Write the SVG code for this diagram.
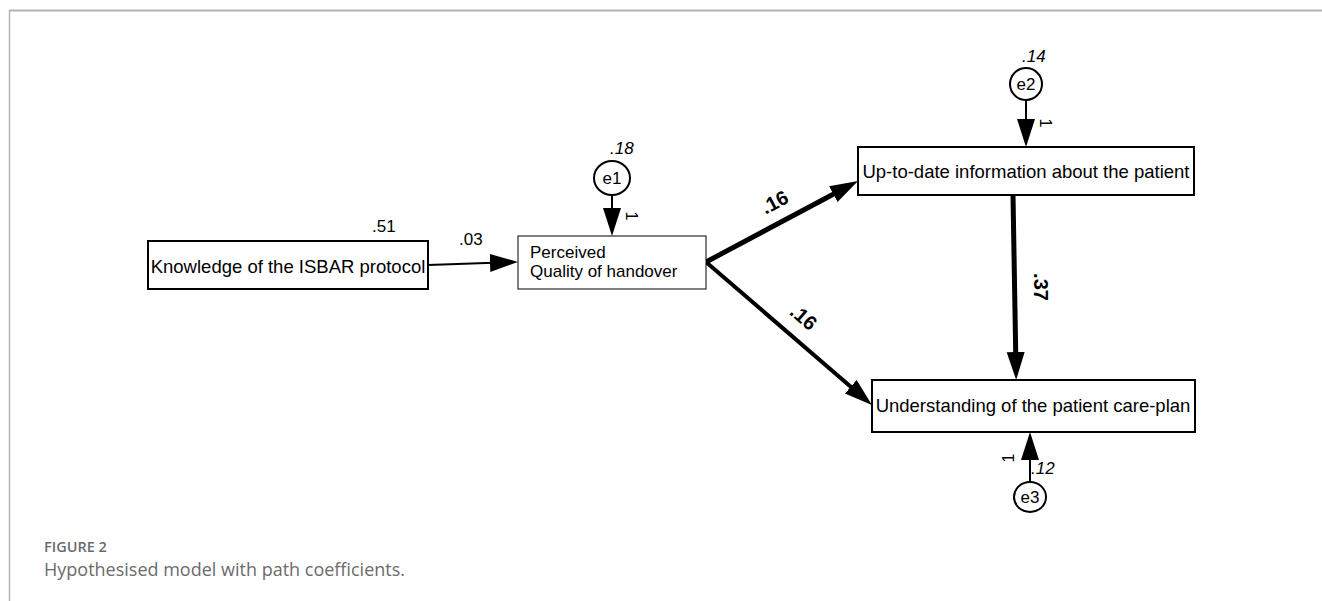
<svg xmlns="http://www.w3.org/2000/svg" width="1322" height="601" viewBox="0 0 1322 601">
<style>
.box{fill:#fff;stroke:#000;stroke-width:2}
.thin{fill:#fff;stroke:#000;stroke-width:1}
.err{fill:#fff;stroke:#000;stroke-width:2}
.t{font-family:"Liberation Sans",Arial,sans-serif;font-size:18.5px;fill:#000}
.lab{font-family:"Liberation Sans",Arial,sans-serif;font-size:17px;fill:#000}
.it{font-family:"Liberation Sans",Arial,sans-serif;font-size:17px;font-style:italic;fill:#000}
.bl{font-family:"Liberation Sans",Arial,sans-serif;font-size:20px;font-weight:bold;fill:#000}
.one{font-family:"Liberation Sans",Arial,sans-serif;font-size:16px;fill:#000}
.c{stroke:#000;fill:none}
.cap1{font-family:"Open Sans",sans-serif;font-size:14.5px;font-weight:600;fill:#6b6b6b}
.cap2{font-family:"Open Sans",sans-serif;font-size:18px;fill:#6b6b6b}
</style>
<defs>
<marker id="ah" markerUnits="userSpaceOnUse" markerWidth="30" markerHeight="20" refX="18" refY="9" orient="auto">
<path d="M0,0 L28,9 L0,18 z" fill="#000"/>
</marker>
</defs>
<rect width="1322" height="601" fill="#fff"/>
<g id="frame">
<line x1="9" y1="10.5" x2="1322" y2="10.5" stroke="#b4b4b4" stroke-width="2"/>
<line x1="9.5" y1="10" x2="9.5" y2="601" stroke="#b4b4b4" stroke-width="1.5"/>
</g>
<g id="connectors">
<line class="c" x1="428" y1="265" x2="508" y2="262.3" stroke-width="2" marker-end="url(#ah)"/>
<line class="c" x1="706" y1="262" x2="849.2" y2="185.7" stroke-width="5" marker-end="url(#ah)"/>
<line class="c" x1="706" y1="262" x2="864.4" y2="398.5" stroke-width="4" marker-end="url(#ah)"/>
<line class="c" x1="1013" y1="195" x2="1016" y2="370" stroke-width="5" marker-end="url(#ah)"/>
<line class="c" x1="612" y1="196" x2="612" y2="226" stroke-width="2" marker-end="url(#ah)"/>
<line class="c" x1="1026" y1="100" x2="1026" y2="137" stroke-width="2" marker-end="url(#ah)"/>
<line class="c" x1="1030" y1="482" x2="1030" y2="442" stroke-width="2" marker-end="url(#ah)"/>
<text class="lab" x="459" y="245">.03</text>
<text class="bl" transform="translate(775,203) rotate(-28)" text-anchor="middle" dy="6">.16</text>
<text class="bl" transform="translate(803,318) rotate(41)" text-anchor="middle" dy="6">.16</text>
<text class="bl" transform="translate(1034,287) rotate(90)" text-anchor="middle" dy="0">.37</text>
<text class="one" transform="translate(626,216) rotate(90)" text-anchor="middle">1</text>
<text class="one" transform="translate(1040,123) rotate(90)" text-anchor="middle">1</text>
<text class="one" transform="translate(1014,458) rotate(-90)" text-anchor="middle">1</text>
</g>
<g id="knowledge">
<rect class="box" x="148" y="241" width="280" height="48"/>
<text class="t" x="288" y="273" text-anchor="middle">Knowledge of the ISBAR protocol</text>
<text class="lab" x="372" y="232">.51</text>
</g>
<g id="quality">
<rect class="thin" x="518" y="236" width="188" height="53"/>
<text class="lab" x="530" y="258">Perceived</text>
<text class="lab" x="530" y="277">Quality of handover</text>
</g>
<g id="uptodate">
<rect class="box" x="858" y="147" width="336" height="48"/>
<text class="t" x="1026" y="178" text-anchor="middle">Up-to-date information about the patient</text>
</g>
<g id="understanding">
<rect class="box" x="872" y="380" width="323" height="52"/>
<text class="t" x="1033" y="412" text-anchor="middle">Understanding of the patient care-plan</text>
</g>
<g id="e1">
<ellipse class="err" cx="612" cy="178" rx="18" ry="17"/>
<text class="lab" x="612" y="184" text-anchor="middle">e1</text>
<text class="it" x="610" y="154">.18</text>
</g>
<g id="e2">
<ellipse class="err" cx="1026" cy="84" rx="16" ry="16"/>
<text class="lab" x="1026" y="90" text-anchor="middle">e2</text>
<text class="it" x="1022" y="62">.14</text>
</g>
<g id="e3">
<ellipse class="err" cx="1030" cy="497" rx="16" ry="15"/>
<text class="lab" x="1030" y="503" text-anchor="middle">e3</text>
<text class="it" x="1031" y="474">.12</text>
</g>
<g id="caption">
<text class="cap1" x="44" y="552">FIGURE 2</text>
<text class="cap2" x="44" y="576">Hypothesised model with path coefficients.</text>
</g>
</svg>
